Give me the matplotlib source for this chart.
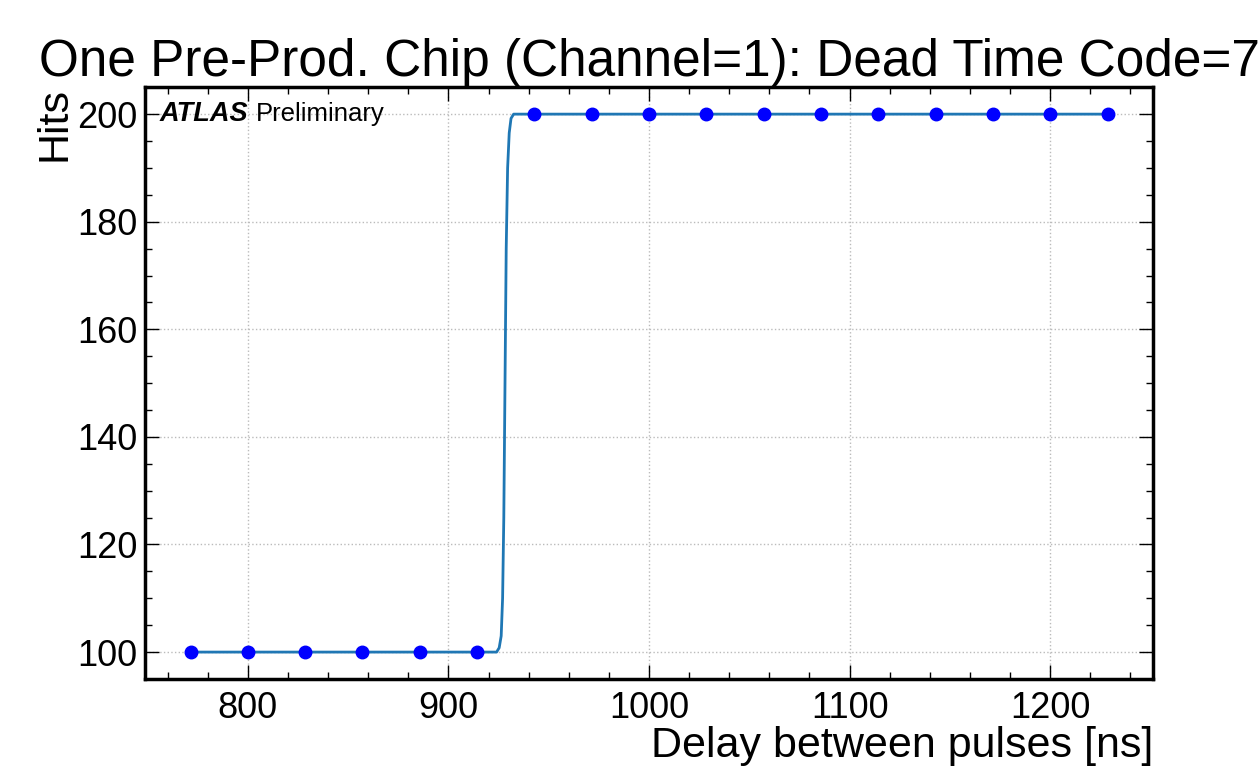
import matplotlib
matplotlib.use('Agg')
import matplotlib.pyplot as plt
from matplotlib.ticker import MultipleLocator

plt.rcParams['font.family'] = ['Liberation Sans', 'DejaVu Sans']

# measured delays [ns] and hits
delay = [771.4, 800.0, 828.6, 857.1, 885.7, 914.3, 942.9, 971.4, 1000.0,
         1028.6, 1057.1, 1085.7, 1114.3, 1142.9, 1171.4, 1200.0, 1228.6]
hits = [100, 100, 100, 100, 100, 100, 200, 200, 200,
        200, 200, 200, 200, 200, 200, 200, 200]

# fit curve
fit_x = [771.4, 924.0, 925.3, 926.3, 927.0, 927.6, 928.2, 928.8, 929.5,
         930.3, 931.2, 932.5, 1228.6]
fit_y = [100, 100, 100.8, 103, 110, 125, 150, 175, 190,
         196.5, 199.2, 200, 200]

fig = plt.figure(figsize=[12.59, 7.72], dpi=100)
ax = fig.add_axes([0.115, 0.1205, 0.801, 0.7665])

ax.plot(fit_x, fit_y, color='tab:blue', lw=2, zorder=2)
ax.plot(delay, hits, 'o', color='blue', ms=9, zorder=3)

ax.set_xlim(748.6, 1251.4)
ax.set_ylim(95, 205)
ax.xaxis.set_major_locator(MultipleLocator(100))
ax.xaxis.set_minor_locator(MultipleLocator(20))
ax.yaxis.set_major_locator(MultipleLocator(20))
ax.yaxis.set_minor_locator(MultipleLocator(5))
ax.tick_params(which='both', direction='in', top=True, right=True, labelsize=26)
ax.tick_params(which='major', length=10, width=1)
ax.tick_params(which='minor', length=5, width=1)
ax.tick_params(axis='x', which='major', pad=9)
ax.tick_params(axis='y', which='major', pad=5)
for s in ax.spines.values():
    s.set_linewidth(2.5)
ax.grid(True, which='major', ls=':', color='#bbbbbb', lw=1)

ax.set_title('One Pre-Prod. Chip (Channel=1): Dead Time Code=7', fontsize=37, pad=4)
ax.set_xlabel('Delay between pulses [ns]', fontsize=31, loc='right', labelpad=0)
ax.set_ylabel('Hits', fontsize=31, loc='top', labelpad=2)

ax.text(0.015, 0.955, 'ATLAS', transform=ax.transAxes, fontsize=19.5,
        fontweight='bold', fontstyle='italic', va='center')
ax.text(0.11, 0.955, 'Preliminary', transform=ax.transAxes, fontsize=18.5, va='center')

fig.savefig('out.png', dpi=100)
